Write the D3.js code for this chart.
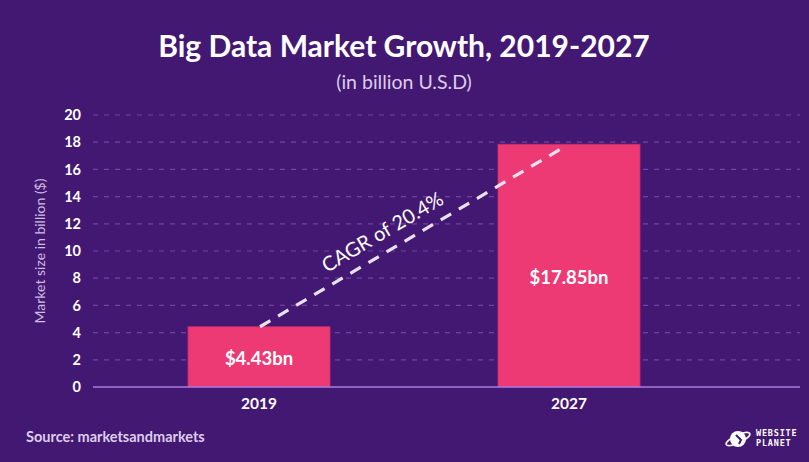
<!DOCTYPE html>
<html><head><meta charset="utf-8">
<script src="https://cdn.jsdelivr.net/npm/d3@7"></script>
<style>body{margin:0;background:#431872;}svg{display:block;font-family:Lato,"Open Sans",sans-serif;}</style>
</head><body>
<svg id="c" width="809" height="462"></svg>
<script>
const categories = ["2019", "2027"];
const values = [4.43, 17.85];
const valueLabels = ["$4.43bn", "$17.85bn"];
const yTicks = [0, 2, 4, 6, 8, 10, 12, 14, 16, 18, 20];
const cagrStart = [4.43];
const cagrEnd = [17.6];
const cagrLabel = "CAGR of 20.4%";

const W = 809, H = 462;
const svg = d3.select("#c");
svg.append("rect").attr("width", W).attr("height", H).attr("fill", "#431872");

const y = d3.scaleLinear().domain([0, 20]).range([387, 115]);
const x = d3.scaleBand().domain(categories).range([93, 735]).paddingInner(0.542).paddingOuter(0.3065);

// title
svg.append("text").attr("x", 404).attr("y", 57).attr("text-anchor", "middle")
  .attr("fill", "#fff").attr("font-size", 30).attr("font-weight", 700).text("Big Data Market Growth, 2019-2027");
svg.append("text").attr("x", 404).attr("y", 89).attr("text-anchor", "middle")
  .attr("fill", "#dccdea").attr("font-size", 19.5).text("(in billion U.S.D)");

// gridlines
const grid = svg.append("g");
grid.selectAll("line").data(yTicks.filter(d => d > 0)).join("line")
  .attr("x1", 93).attr("x2", 800).attr("y1", d => y(d)).attr("y2", d => y(d))
  .attr("stroke", "#7040a8").attr("stroke-width", 1.2).attr("stroke-dasharray", "5,6");

// y axis labels
const yAxis = d3.axisLeft(y).tickValues(yTicks).tickSize(0).tickPadding(0);
const ga = svg.append("g").attr("transform", "translate(81,0)").call(yAxis);
ga.select(".domain").remove();
ga.selectAll("text").attr("fill", "#fff").attr("font-size", 14.5).attr("font-weight", 700)
  .attr("font-family", "Lato, sans-serif");

svg.append("text").attr("transform", "translate(45,251) rotate(-90)").attr("text-anchor", "middle")
  .attr("fill", "#cdbde0").attr("font-size", 14).text("Market size in billion ($)");

// bars
svg.selectAll("rect.bar").data(values).join("rect").attr("class", "bar")
  .attr("x", (d, i) => x(categories[i])).attr("width", x.bandwidth())
  .attr("y", d => y(d)).attr("height", d => y(0) - y(d))
  .attr("fill", "#ee3a74").attr("stroke", "#c8306a").attr("stroke-width", 0.8);

// baseline
svg.append("line").attr("x1", 93).attr("x2", 800).attr("y1", y(0)).attr("y2", y(0))
  .attr("stroke", "#a77de0").attr("stroke-width", 1.5);

// bar labels
svg.selectAll("text.vl").data(values).join("text").attr("class", "vl")
  .attr("x", (d, i) => x(categories[i]) + x.bandwidth() / 2)
  .attr("y", (d, i) => i === 0 ? 365 : 284)
  .attr("text-anchor", "middle").attr("fill", "#fff").attr("font-size", 18.5).attr("font-weight", 700)
  .text((d, i) => valueLabels[i]);

// x labels
const xAxis = d3.axisBottom(x).tickSize(0).tickPadding(0);
const gx = svg.append("g").attr("transform", "translate(0,398)").call(xAxis);
gx.select(".domain").remove();
gx.selectAll("text").attr("fill", "#fff").attr("font-size", 15.5).attr("font-weight", 700)
  .attr("font-family", "Lato, sans-serif");

// CAGR dashed line
const x0 = x(categories[0]) + x.bandwidth() / 2 + 1;
const x1 = x(categories[1]) + x.bandwidth() / 2 - 6;
const ys = y(cagrStart[0]), ye = y(cagrEnd[0]);
svg.append("line").attr("x1", x0).attr("y1", ys).attr("x2", x1).attr("y2", ye)
  .attr("stroke", "#e8e2ee").attr("stroke-width", 3.2).attr("stroke-dasharray", "12,9");
const ang = Math.atan2(ye - ys, x1 - x0) * 180 / Math.PI;
svg.append("text").attr("transform", `translate(386,238) rotate(${ang})`)
  .attr("text-anchor", "middle").attr("fill", "#fff").attr("font-size", 20).text(cagrLabel);

// source
svg.append("text").attr("x", 26).attr("y", 442).attr("fill", "#dccdea").attr("font-size", 14.5)
  .attr("font-weight", 700).text("Source: marketsandmarkets");

// logo
const lg = svg.append("g").attr("transform", "translate(738,439)");
lg.append("circle").attr("r", 8).attr("fill", "#fff");
lg.append("ellipse").attr("rx", 13).attr("ry", 4).attr("transform", "rotate(-25)")
  .attr("fill", "none").attr("stroke", "#fff").attr("stroke-width", 1.6);
lg.append("path").attr("d", "M-2,-4 L3,1 L1,5").attr("stroke", "#431872").attr("stroke-width", 2).attr("fill", "none");
svg.append("text").attr("x", 756).attr("y", 436).attr("fill", "#fff").attr("font-size", 8.5).attr("font-weight", 700)
  .attr("letter-spacing", 0.8).attr("font-family", "DejaVu Sans Mono, monospace").text("WEBSITE");
svg.append("text").attr("x", 756).attr("y", 446).attr("fill", "#fff").attr("font-size", 8.5).attr("font-weight", 700)
  .attr("letter-spacing", 0.8).attr("font-family", "DejaVu Sans Mono, monospace").text("PLANET");
</script>
</body></html>
